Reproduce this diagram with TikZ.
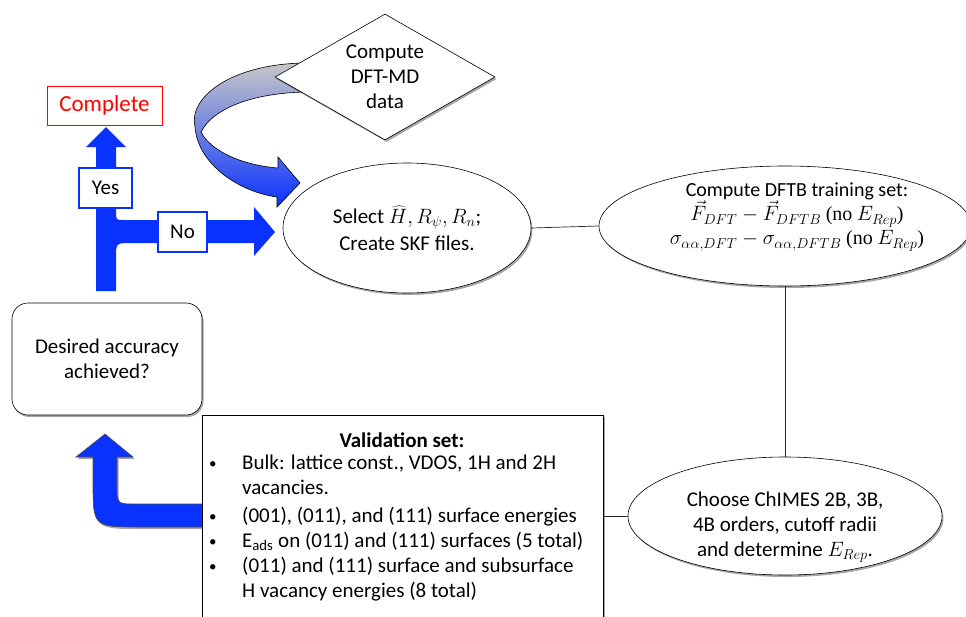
\documentclass[tikz,border=0pt]{standalone}
\usepackage{fontspec}
\setmainfont{Carlito}
\newfontfamily\tnr{Liberation Serif}
\usetikzlibrary{shapes.geometric,shadows}
\definecolor{myblue}{RGB}{10,50,255}
\definecolor{myred}{RGB}{255,0,0}
\newcommand{\smbul}{\raisebox{1.5pt}{\fontsize{15}{15}\selectfont\textbullet}}
\begin{document}
\begin{tikzpicture}[x=1pt,y=-1pt,
  every node/.style={font=\fontsize{21}{25}\selectfont},
  shad/.style={drop shadow={shadow xshift=1.5pt,shadow yshift=-2pt,opacity=0.35,fill=black}},
  ellbox/.style={ellipse, draw=black, line width=0.6pt, fill=white, inner sep=0pt, align=center, shad},
  lbl/.style={draw=myblue, line width=1.2pt, fill=white, inner sep=0pt},
  conn/.style={draw=black!85, line width=0.7pt}
]
\useasboundingbox[fill=white] (0,0) rectangle (966,616);

% blue T arrow (Yes / No)
\fill[myblue] (96,291) -- (96,147) -- (86,147) -- (106,127) -- (126,147) -- (116,147)
  -- (116,212) .. controls (116,220) .. (124,220) -- (254,220) -- (254,207) -- (275,232)
  -- (254,256) -- (254,243) -- (131,243) .. controls (116,243) .. (116,258) -- (116,291) -- cycle;

% blue U arrow from validation set
\filldraw[fill=myblue, draw=black!70, line width=0.6pt, shad] (210,504) -- (136,504)
  .. controls (117,504) .. (117,485) -- (117,457) -- (133,457) -- (105,434) -- (76,457)
  -- (93,457) -- (93,482) .. controls (93,527) .. (140,527) -- (210,527) -- cycle;

% curved ribbon arrow
\shadedraw[top color=black!22, middle color=myblue!45!black!20, bottom color=myblue, draw=black, line width=0.6pt]
  (305,63) .. controls (230,64) and (188,98) .. (195,127)
  .. controls (198,165) and (240,192) .. (277,197)
  -- (277,207) -- (300,183) -- (278,157) -- (278,168)
  .. controls (240,165) and (210,150) .. (201,132)
  .. controls (215,105) and (260,93) .. (305,92) -- cycle;

% nodes
\node[diamond, draw=black, line width=0.6pt, fill=white, shad, minimum width=220pt, minimum height=126pt,
  inner sep=0pt, aspect=1.746, align=center] (dft) at (385,77) {Compute\\DFT-MD\\data};

\node[draw=myred, text=myred, fill=white, line width=0.6pt, minimum width=115pt, minimum height=39pt,
  inner sep=0pt, font=\fontsize{23}{27}\selectfont] (complete) at (104.5,105.5) {Complete};

\node[lbl, minimum width=53pt, minimum height=40pt] (yes) at (105.5,188) {Yes};
\node[lbl, minimum width=49pt, minimum height=40pt] (no) at (182.5,232) {No};

\node[draw=black, rounded corners=16pt, fill=white, shad, line width=0.6pt, minimum width=190pt,
  minimum height=112pt, align=center] (acc) at (107,359) {Desired accuracy\\achieved?};

\node[ellbox, minimum width=248pt, minimum height=130pt] (sel) at (407,228)
  {Select $\widehat{H}, R_{\psi}, R_{n}$;\\[2pt]Create SKF files.};

\node[ellbox, minimum width=372pt, minimum height=120pt] (dftb) at (785,226) {};
\node[align=center, inner sep=0pt, font=\fontsize{20}{24}\selectfont] (dftbtext) at (797,217)
  {Compute DFTB training set:\\
   $\vec{F}_{DFT}-\vec{F}_{DFTB}$ {\tnr(no} $E_{Rep}${\tnr)}\\
   $\sigma_{\alpha\alpha,DFT}-\sigma_{\alpha\alpha,DFTB}$ {\tnr(no} $E_{Rep}${\tnr)}};

\node[ellbox, minimum width=314pt, minimum height=118pt] (chimes) at (785,516) {};
\node[align=center, inner sep=0pt] (chimestext) at (785,527)
  {Choose ChIMES 2B, 3B,\\4B orders, cutoff radii\\and determine $E_{Rep}$.};

\node[draw=black, fill=white, shad, line width=0.6pt, minimum width=401pt, minimum height=203pt,
  anchor=north west, inner sep=0pt] (valbox) at (202,415) {};
\node[font=\fontsize{21}{25}\bfseries] (valtitle) at (402,440) {Validation set:};
\node[anchor=north west, inner sep=0pt] (valtext) at (209,452) {%
  \begin{tabular}{@{}p{33pt}@{}l@{}}
  \smbul & Bulk: lattice const., VDOS, 1H and 2H\\
   & vacancies.\\[3pt]
  \smbul & (001), (011), and (111) surface energies\\
  \smbul & E\textsubscript{ads} on (011) and (111) surfaces (5 total)\\
  \smbul & (011) and (111) surface and subsurface\\
   & H vacancy energies (8 total)
  \end{tabular}};

% connectors
\draw[conn] (sel.east) -- (dftb.west);
\draw[conn] (dftb.south) -- (chimes.north);
\draw[conn] (chimes.west -| valbox.east) -- (chimes.west);
\end{tikzpicture}
\end{document}
